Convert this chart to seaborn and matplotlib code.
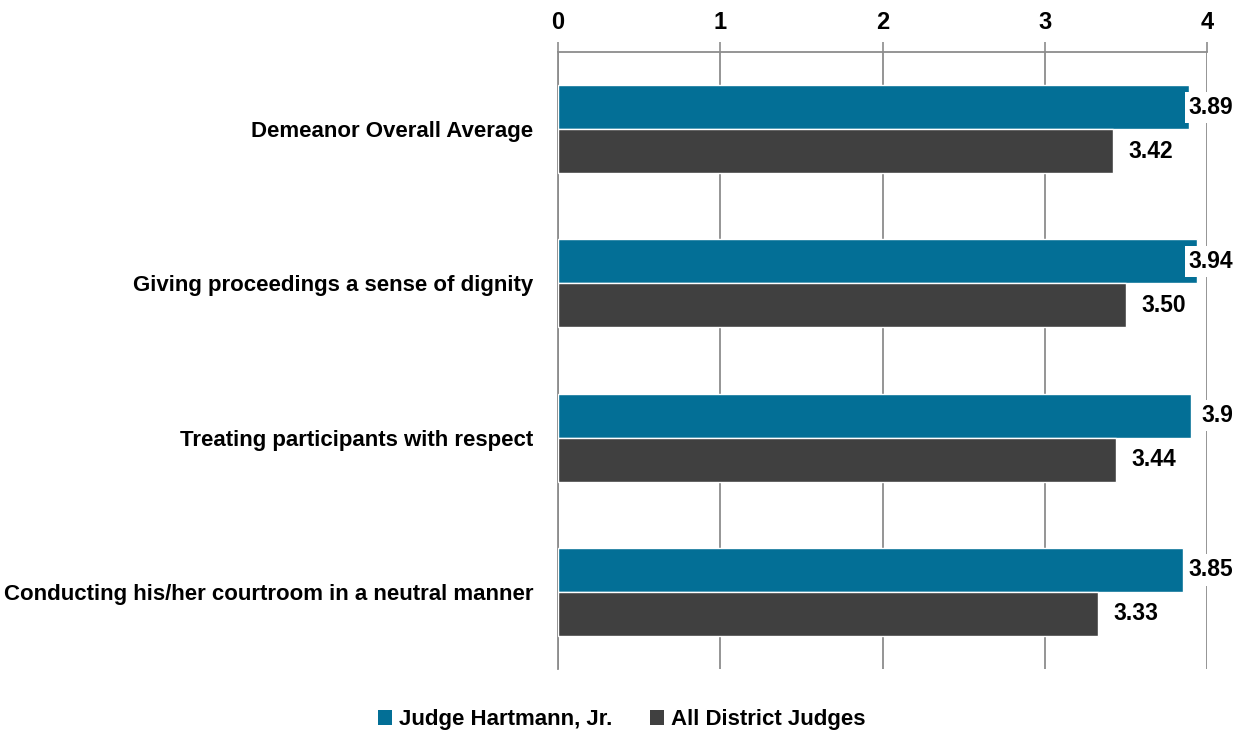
import pandas as pd
import matplotlib.pyplot as plt
import seaborn as sns
from matplotlib.patches import Patch

# data
categories = [
    "Demeanor Overall Average",
    "Giving proceedings a sense of dignity",
    "Treating participants with respect",
    "Conducting his/her courtroom in a neutral manner",
]
series = ["Judge Hartmann, Jr.", "All District Judges"]
judge_vals = [3.89, 3.94, 3.90, 3.85]
all_vals = [3.42, 3.50, 3.44, 3.33]
judge_labels = ["3.89", "3.94", "3.9", "3.85"]
all_labels = ["3.42", "3.50", "3.44", "3.33"]
x_ticks = [0, 1, 2, 3, 4]

colors = ["#036F96", "#404040"]
grid_gray = "#8C8C8C"

df = pd.DataFrame({
    "category": categories * 2,
    "series": [series[0]] * 4 + [series[1]] * 4,
    "value": judge_vals + all_vals,
})

sns.set_style("white")
plt.rcParams["font.family"] = ["Liberation Sans", "DejaVu Sans"]
plt.rcParams["font.weight"] = "bold"
plt.rcParams["text.color"] = "black"
plt.rcParams["xtick.color"] = "black"
plt.rcParams["ytick.color"] = "black"

fig = plt.figure(figsize=(12.43, 7.36), dpi=100)
ax = fig.add_axes([558 / 1243, 1 - 669 / 736, (1207 - 558) / 1243, (669 - 52) / 736])

sns.barplot(data=df, y="category", x="value", hue="series", order=categories,
            hue_order=series, palette=colors, orient="h", width=0.57,
            saturation=1, ax=ax, legend=False, zorder=3)

ax.set_xlim(0, 4)
ax.set_ylim(3.5, -0.5)
ax.set_xlabel("")
ax.set_ylabel("")

# x axis on top
ax.xaxis.tick_top()
ax.set_xticks(x_ticks)
ax.tick_params(axis="x", which="major", length=7, width=1.2, color=grid_gray,
               labelsize=17, pad=6)
ax.grid(axis="x", color=grid_gray, linewidth=1.3, zorder=0)

# category labels at centres, tick marks at boundaries
ax.set_yticks(range(len(categories)))
ax.set_yticklabels(categories, fontsize=16, fontweight="bold")
ax.tick_params(axis="y", which="major", length=0, pad=18)
ax.set_yticks([-0.5, 0.5, 1.5, 2.5, 3.5], minor=True)
ax.tick_params(axis="y", which="minor", length=7, width=1.2, color=grid_gray)

for side in ["bottom", "right"]:
    ax.spines[side].set_visible(False)
for side in ["top", "left"]:
    ax.spines[side].set_color(grid_gray)
    ax.spines[side].set_linewidth(1.3)

for lab in ax.get_xticklabels():
    lab.set_fontweight("bold")

# value labels: judge labels sit at the right edge of the plot, on white
x_max = ax.get_xlim()[1]
for bar, lab in zip(ax.containers[0], judge_labels):
    yc = bar.get_y() + bar.get_height() / 2
    ax.annotate(lab, xy=(x_max, yc), xytext=(19, 0), textcoords="offset points",
                ha="right", va="center", fontsize=16.5, fontweight="bold",
                bbox=dict(facecolor="white", edgecolor="none", pad=3),
                annotation_clip=False, zorder=5)
ax.bar_label(ax.containers[1], labels=all_labels, padding=11, fontsize=16.5,
             fontweight="bold", zorder=4)

handles = [Patch(facecolor=c, edgecolor="none") for c in colors]
fig.legend(handles, series, loc="center", bbox_to_anchor=(0.5, 1 - 720 / 736), ncol=2,
           frameon=False, prop={"weight": "bold", "size": 16},
           handlelength=0.65, handleheight=0.65, handletextpad=0.3, columnspacing=1.7)

fig.savefig("out.png", dpi=100)
